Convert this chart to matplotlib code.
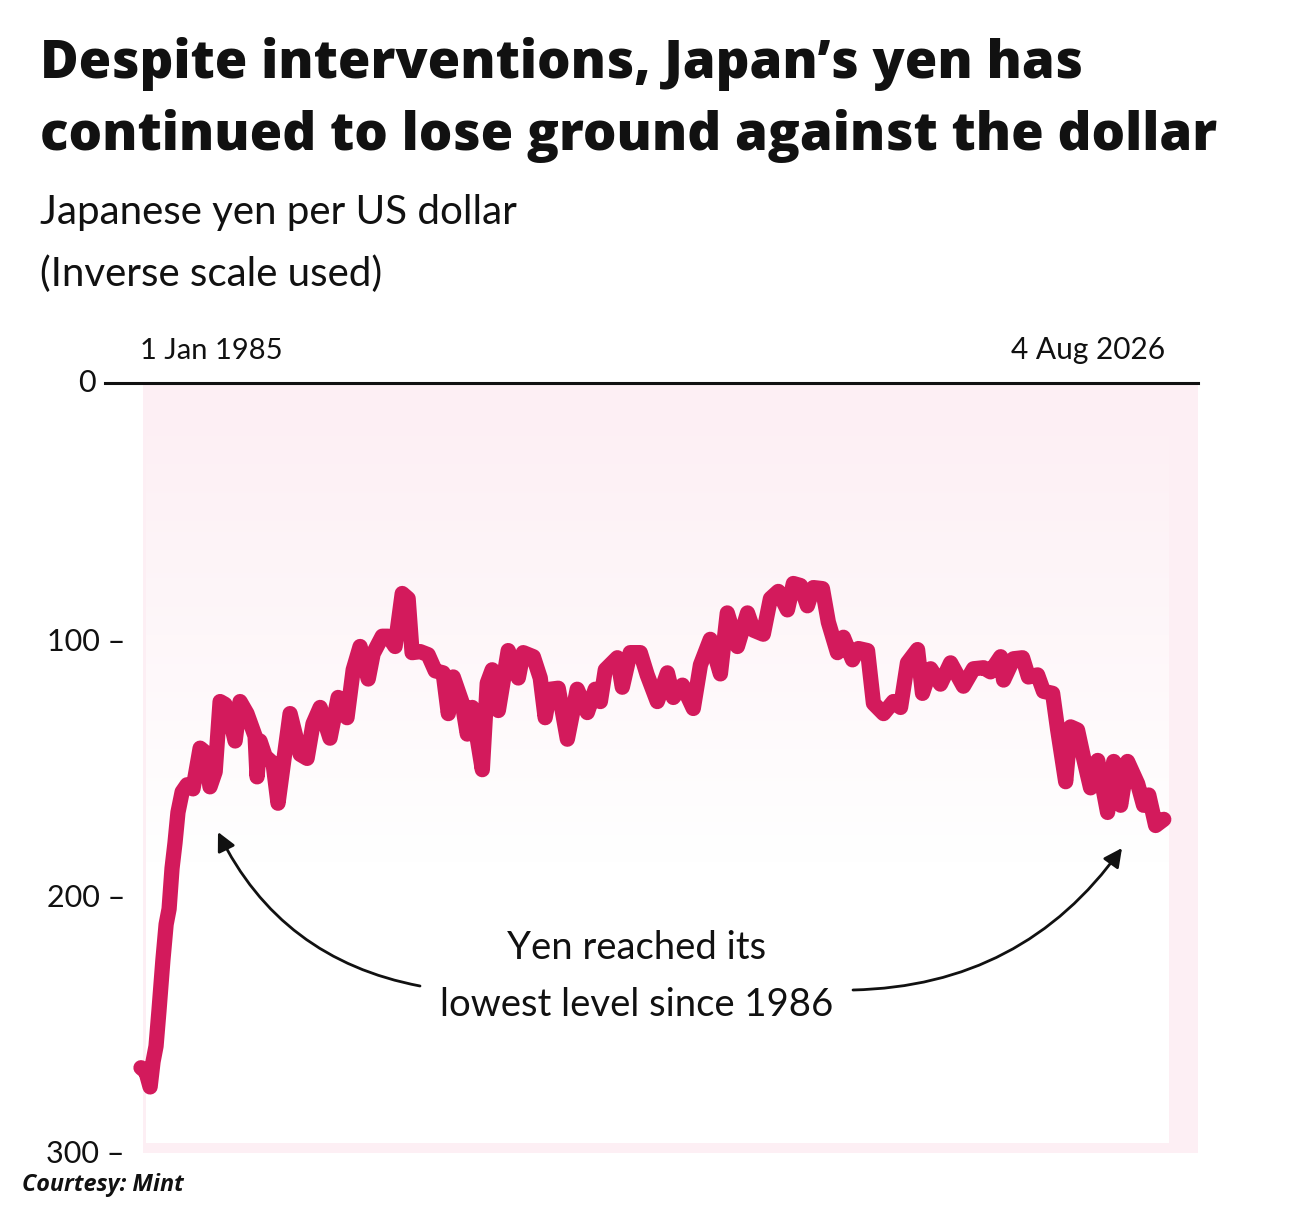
import numpy as np
import matplotlib
matplotlib.use("Agg")
import matplotlib.pyplot as plt
from matplotlib.transforms import blended_transform_factory

# yen per US dollar (decimal years)
years = [
    1985.04, 1985.24, 1985.41, 1985.53, 1985.65, 1985.77, 1985.93, 1986.06, 1986.18, 1986.30,
    1986.42, 1986.54, 1986.71, 1986.91, 1987.15, 1987.44, 1987.64, 1987.84, 1988.05, 1988.25,
    1988.45, 1988.57, 1988.86, 1989.06, 1989.34, 1989.67, 1989.75, 1989.87, 1990.08, 1990.40,
    1990.60, 1991.09, 1991.50, 1991.78, 1992.02, 1992.31, 1992.71, 1993.04, 1993.40, 1993.65,
    1993.93, 1994.26, 1994.46, 1994.83, 1995.07, 1995.35, 1995.64, 1995.88, 1996.04, 1996.37,
    1996.69, 1996.98, 1997.30, 1997.51, 1997.71, 1998.07, 1998.28, 1998.48, 1998.89, 1999.09,
    1999.29, 1999.54, 1999.94, 2000.35, 2000.55, 2000.96, 2001.24, 2001.44, 2001.65, 2001.97,
    2002.34, 2002.74, 2003.15, 2003.47, 2003.68, 2003.88, 2004.37, 2004.57, 2004.89, 2005.30,
    2005.58, 2005.99, 2006.40, 2006.64, 2007.01, 2007.45, 2007.74, 2008.14, 2008.55, 2008.83,
    2009.24, 2009.65, 2009.89, 2010.29, 2010.58, 2010.90, 2011.27, 2011.51, 2011.80, 2012.08,
    2012.32, 2012.69, 2012.93, 2013.30, 2013.54, 2013.91, 2014.15, 2014.52, 2014.76, 2015.17,
    2015.57, 2015.86, 2016.14, 2016.55, 2016.75, 2017.08, 2017.48, 2017.89, 2018.41, 2018.82,
    2019.23, 2019.51, 2019.92, 2020.04, 2020.44, 2020.81, 2021.05, 2021.42, 2021.66, 2022.03,
    2022.23, 2022.56, 2022.76, 2023.04, 2023.29, 2023.57, 2023.86, 2024.26, 2024.51, 2024.79,
    2025.07, 2025.48, 2025.72, 2025.93, 2026.21, 2026.54,
]
yen = [
    267.4, 269.0, 274.9, 265.0, 259.0, 245.1, 225.3, 211.4, 205.4, 189.5,
    179.6, 167.7, 159.7, 156.9, 158.5, 142.6, 144.2, 157.7, 151.8, 124.4,
    125.5, 127.9, 139.8, 124.4, 129.1, 137.9, 153.8, 139.8, 145.8, 148.6,
    164.1, 129.1, 145.0, 146.6, 133.1, 126.7, 138.7, 122.8, 130.7, 112.0,
    102.9, 115.6, 105.7, 98.9, 98.9, 102.9, 82.2, 84.2, 105.3, 104.9,
    106.1, 112.4, 113.2, 129.1, 114.8, 124.8, 137.1, 126.7, 151.0, 117.2,
    112.0, 127.9, 104.5, 115.2, 105.3, 106.9, 115.2, 130.7, 119.6, 119.2,
    139.1, 119.6, 128.7, 119.6, 124.4, 112.0, 107.3, 118.8, 105.3, 105.3,
    114.0, 124.4, 113.2, 122.8, 118.0, 127.1, 110.1, 100.1, 113.6, 89.8,
    102.9, 89.8, 96.5, 98.1, 84.2, 81.4, 88.6, 78.3, 79.1, 87.0,
    79.9, 80.3, 93.4, 105.3, 99.3, 108.1, 103.7, 104.5, 125.1, 129.1,
    124.4, 126.7, 109.3, 104.1, 121.2, 111.6, 117.6, 109.3, 118.4, 111.6,
    111.2, 112.8, 106.9, 116.0, 107.7, 107.3, 114.8, 114.0, 120.4, 121.2,
    135.1, 155.7, 134.3, 135.5, 146.6, 158.1, 147.4, 167.7, 147.8, 164.9,
    147.8, 156.5, 164.9, 160.9, 172.8, 170.4,
]
y_ticks = [100, 200, 300]
start_label, start_year = "1 Jan 1985", 1985.0
end_label, end_year = "4 Aug 2026", 2026.59

W, H = 1303, 1207
LINE = "#D31A5C"
TXT = "#111111"


def fx(px):
    return px / W


def fy(py):
    return 1 - py / H


fig = plt.figure(figsize=(W / 100, H / 100), dpi=100)
fig.patch.set_facecolor("white")

ax_l, ax_r, ax_t, ax_b = 143, 1198, 383, 1153
ax = fig.add_axes([fx(ax_l), fy(ax_b), (ax_r - ax_l) / W, (ax_b - ax_t) / H])
ax.set_facecolor("#fdeff4")

# white overlay that fades the pink panel out towards the bottom
grad = np.ones((256, 2, 4))
yy = np.linspace(0, 1, 256)
grad[:, :, 3] = np.clip((0.97 - yy) / 0.6, 0, 1)[:, None]
ax.imshow(grad, extent=[0.003, 0.972, 0.013, 1.0], transform=ax.transAxes,
          aspect="auto", origin="lower", zorder=1, interpolation="bilinear")

ax.plot(years, yen, color=LINE, lw=11, solid_joinstyle="round",
        solid_capstyle="round", zorder=3, clip_on=False)

px_per_year = (1165 - 140) / (end_year - start_year)
ax.set_xlim(start_year + (ax_l - 140) / px_per_year, start_year + (ax_r - 140) / px_per_year)
ax.set_ylim(300.7, 0)

for s in ax.spines.values():
    s.set_visible(False)
ax.set_xticks([])
ax.set_yticks(y_ticks)
ax.set_yticklabels([f"{v} \u2013" for v in y_ticks], family="Lato", fontsize=22, color=TXT)
ax.tick_params(axis="y", length=0, pad=13)

# zero line across the top with its own label
tr = blended_transform_factory(ax.transAxes, ax.transData)
ax.plot([(105 - ax_l) / (ax_r - ax_l), 1.0], [0, 0], color=TXT, lw=2.2,
        transform=tr, clip_on=False, zorder=4)
ax.text((96 - ax_l) / (ax_r - ax_l), 0, "0", transform=tr, ha="right", va="center",
        family="Lato", fontsize=22, color=TXT)

ax.text(start_year, -7.5, start_label, ha="left", va="bottom", family="Lato",
        fontsize=21, color=TXT, clip_on=False)
ax.text(end_year, -7.5, end_label, ha="right", va="bottom", family="Lato",
        fontsize=21.5, color=TXT, clip_on=False)

# annotation
fig.text(fx(637), fy(948), "Yen reached its", ha="center", va="center",
         family="Lato", fontsize=27.5, color=TXT)
fig.text(fx(637), fy(1005), "lowest level since 1986", ha="center", va="center",
         family="Lato", fontsize=27.5, color=TXT)
arrow_kw = dict(arrowstyle="-|>", lw=2, color=TXT, mutation_scale=28,
                shrinkA=0, shrinkB=0)
ax.annotate("", xy=(fx(218), fy(832)), xytext=(fx(420), fy(986)),
            xycoords="figure fraction", textcoords="figure fraction",
            arrowprops=dict(connectionstyle="arc3,rad=-0.25", **arrow_kw), zorder=5)
ax.annotate("", xy=(fx(1122), fy(848)), xytext=(fx(853), fy(990)),
            xycoords="figure fraction", textcoords="figure fraction",
            arrowprops=dict(connectionstyle="arc3,rad=0.25", **arrow_kw), zorder=5)

# titles
fig.text(fx(40), fy(78), "Despite interventions, Japan\u2019s yen has", ha="left",
         va="baseline", family="Open Sans", fontweight=800, fontsize=38, color=TXT)
fig.text(fx(40), fy(150), "continued to lose ground against the dollar", ha="left",
         va="baseline", family="Open Sans", fontweight=800, fontsize=38, color=TXT)
fig.text(fx(40), fy(224), "Japanese yen per US dollar", ha="left", va="baseline",
         family="Lato", fontsize=29, color=TXT)
fig.text(fx(40), fy(286), "(Inverse scale used)", ha="left", va="baseline",
         family="Lato", fontsize=29, color=TXT)

fig.text(fx(22), fy(1191), "Courtesy: Mint", ha="left", va="baseline",
         family="Open Sans", fontweight="bold", fontstyle="italic", fontsize=16.8, color=TXT)

fig.savefig("out.png", dpi=100, facecolor="white")
